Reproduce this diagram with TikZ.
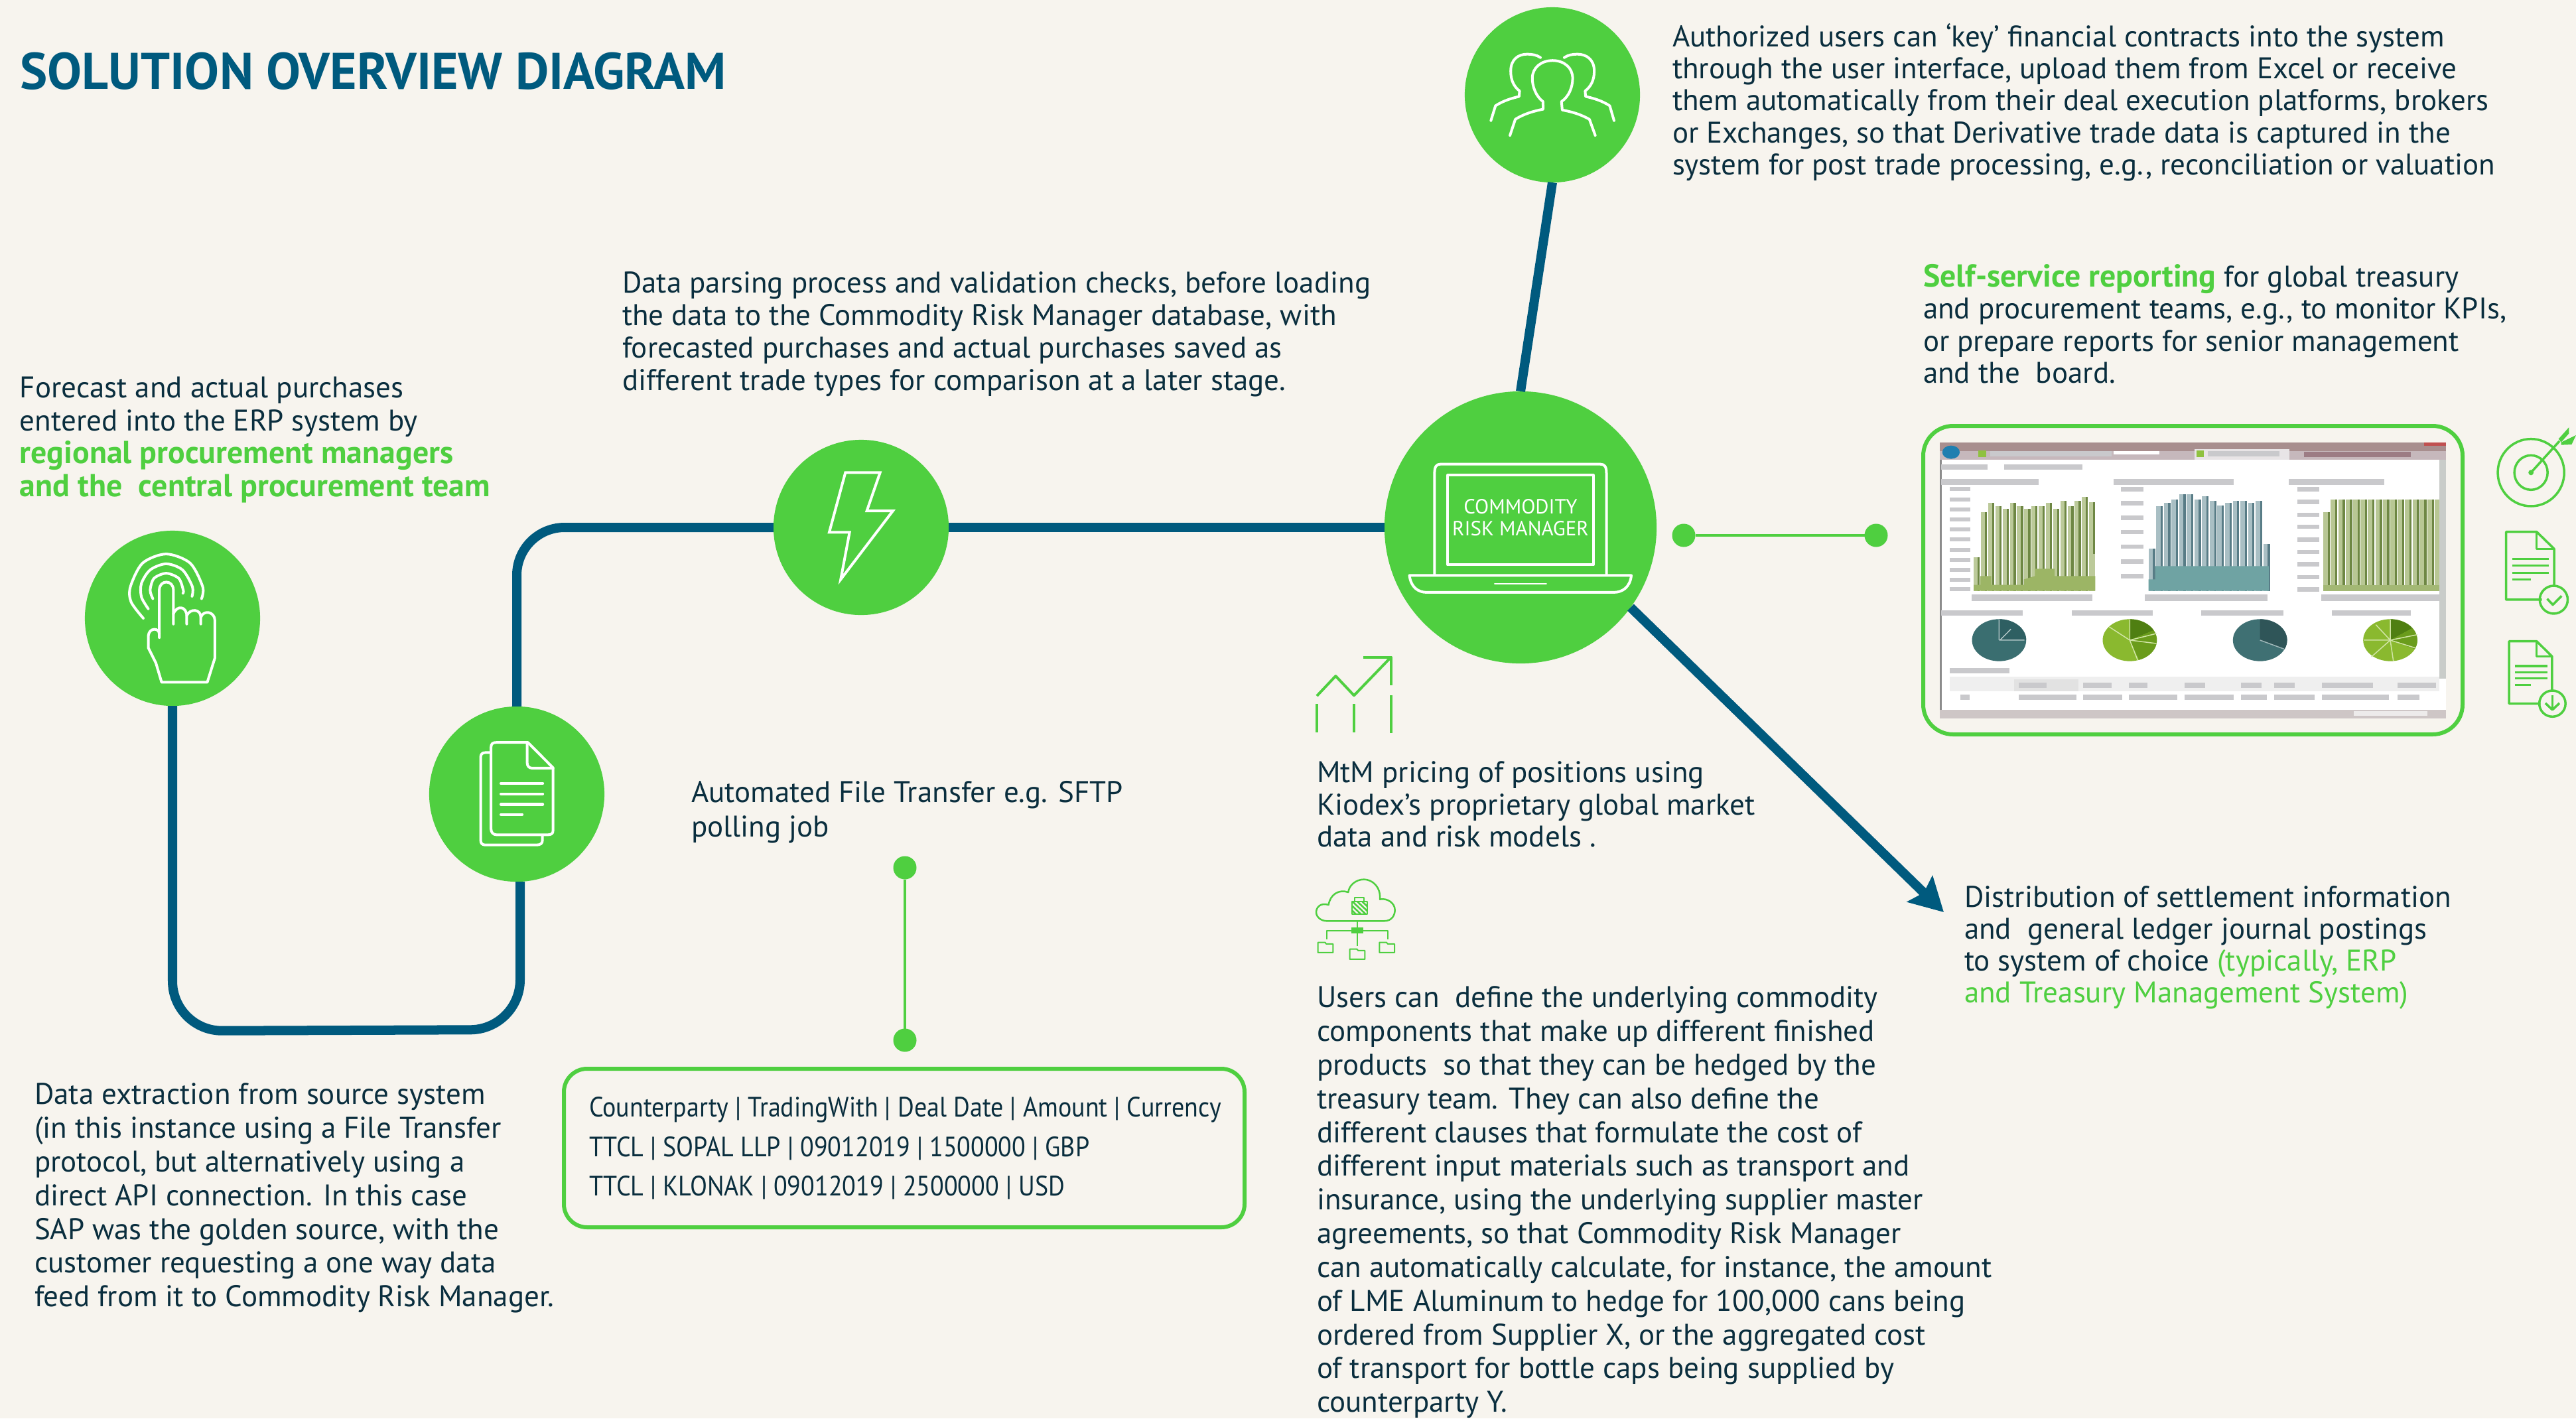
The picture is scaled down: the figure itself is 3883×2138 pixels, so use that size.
\documentclass[tikz,border=0pt]{standalone}
\usepackage{fontspec}
\setmainfont{PT Sans}
\newfontfamily\csvfont[FakeStretch=0.9]{PT Sans}
\usetikzlibrary{arrows.meta}
\definecolor{paper}{HTML}{F7F4EE}
\definecolor{grn}{HTML}{4FCF40}
\definecolor{blu}{HTML}{005A7E}
\definecolor{ink}{HTML}{0A2E3E}
\definecolor{gry}{HTML}{C9C9CC}
\definecolor{pieA}{HTML}{B0C5C5}
\definecolor{pieB}{HTML}{D0E4A5}
\definecolor{pieC}{HTML}{9DB5B7}
\newcommand{\blurbar}[4]{\fill[gry] (#1,#2) rectangle (#3,#4);}
\newcommand{\wedgeP}[5]{\fill[#5] (#1,#2) -- ++(#3:62 and 95) arc[start angle=#3,end angle=#4,x radius=62,y radius=95] -- cycle;}
\tikzset{
  HTML/.code={\definecolor{tmpc}{HTML}{#1}\pgfkeysalso{/tikz/fill=tmpc}},
  hub/.style={circle,fill=grn,minimum size=2.64cm,inner sep=0pt,outer sep=0pt},
  bigflow/.style={draw=blu,line width=0.14cm,line join=round},
  thinflow/.style={draw=grn,line width=0.045cm},
  dotnode/.style={circle,fill=grn,minimum size=0.35cm,inner sep=0pt,outer sep=0pt},
  greenbox/.style={draw=grn,line width=0.06cm,rounded corners=0.35cm},
  icon/.style={draw=white,line width=0.04cm,line cap=round,line join=round},
  gicon/.style={draw=grn,line width=0.035cm,line join=round},
  para/.style={anchor=north west,inner sep=0pt,outer sep=0pt,align=left,text=ink,font=\fontsize{12.8}{#1}\selectfont},
  para/.default=13.9pt,
}
\newcommand{\hl}[1]{{\fontsize{13.6}{14}\selectfont\textcolor{grn}{\textbf{#1}}}}
\begin{document}
\begin{tikzpicture}[x=0.01cm,y=-0.01cm]
\useasboundingbox (0,0) rectangle (3883,2138);
\fill[paper] (0,0) rectangle (3883,2138);

% hubs
\node[hub] (hand) at (260,932) {};
\node[hub] (doc) at (779,1197) {};
\node[hub] (bolt) at (1298,795) {};
\node[hub,minimum size=4.1cm] (crm) at (2292,795) {};
\node[hub] (users) at (2340,143) {};

% corners and free ends
\coordinate (c1) at (260,1554);
\coordinate (c2) at (784,1552);
\coordinate (c3) at (779,795);
\coordinate (tip) at (2930,1375);

% connectors
\draw[bigflow,rounded corners=0.75cm] (hand.south) -- (c1) -- (c2) -- (doc.south -| c2);
\draw[bigflow,rounded corners=0.72cm] (doc.north) -- (c3) -- (bolt.west);
\draw[bigflow] (bolt.east) -- (crm.west);
\draw[bigflow] (users.south) -- (crm.north);
\draw[bigflow,-{Stealth[length=0.5cm,width=0.54cm,inset=0.08cm]}] (crm.-36) -- (tip);

% thin dotted connectors
\node[dotnode] (d1) at (2538,807) {};
\node[dotnode] (d2) at (2828,807) {};
\draw[thinflow] (d1) -- (d2);
\node[dotnode] (d3) at (1364,1308) {};
\node[dotnode] (d4) at (1364,1568) {};
\draw[thinflow] (d3) -- (d4);

% title
\node[anchor=base west,inner sep=0pt,text=blu,font=\fontsize{22.1}{26}\selectfont\bfseries] (title) at (30,134) {SOLUTION OVERVIEW DIAGRAM};

% hand icon (zoom coordinates)
\begin{scope}[shift={(80,780)},xscale=0.574,yscale=0.51]
\draw[icon] plot[smooth] coordinates {(237,298) (205,250) (203,205) (235,135) (297,108) (360,135) (393,205) (390,240)};
\draw[icon] plot[smooth] coordinates {(250,270) (232,235) (232,195) (255,155) (297,137) (340,155) (366,205) (365,233)};
\draw[icon] plot[smooth] coordinates {(262,240) (255,215) (265,180) (297,165) (330,180) (342,215) (341,224)};
\draw[icon] (279,355) -- (279,215) .. controls (279,183) and (316,183) .. (316,215) -- (316,315);
\draw[icon] (316,285) .. controls (325,258) and (351,262) .. (351,292) -- (351,315);
\draw[icon] (351,290) .. controls (360,268) and (388,270) .. (388,295) -- (388,315);
\draw[icon] (388,295) .. controls (395,272) and (425,278) .. (425,305) -- (425,415) -- (405,487) -- (285,487) -- (270,430) -- (250,385) -- (250,350) .. controls (252,325) and (279,325) .. (279,345);
\end{scope}

% document icon
\begin{scope}[shift={(80,780)},xscale=0.574,yscale=0.51]
\draw[icon] (1150,680) .. controls (1150,668) and (1155,665) .. (1165,665) -- (1247,665) -- (1313,740) -- (1313,925) .. controls (1313,935) and (1308,938) .. (1298,938) -- (1165,938) .. controls (1155,938) and (1150,930) .. (1150,920) -- cycle;
\draw[icon] (1245,665) -- (1245,725) .. controls (1245,735) and (1250,741) .. (1258,741) -- (1313,741);
\draw[icon] (1176,786) -- (1286,786);
\draw[icon] (1176,817) -- (1286,817);
\draw[icon] (1176,848) -- (1286,848);
\draw[icon] (1176,878) -- (1232,878);
\draw[icon] (1147,695) -- (1135,695) .. controls (1127,695) and (1123,700) .. (1123,708) -- (1123,955) .. controls (1123,963) and (1127,968) .. (1135,968) -- (1270,968) .. controls (1280,968) and (1285,963) .. (1285,955) -- (1285,940);
\end{scope}

% bolt icon
\begin{scope}[shift={(1130,640)},scale=0.3333]
\draw[draw=white,line width=0.04cm,miter limit=10] (433,217) -- (590,217) -- (530,390) -- (648,390) -- (412,700) -- (452,487) -- (360,487) -- cycle;
\end{scope}

% users icon
\begin{scope}[shift={(1950,0)},xscale=0.3827,yscale=0.6378]
\draw[icon] (852,320) -- (873,282) .. controls (910,268) and (950,262) .. (983,258) -- (982,240) .. controls (955,228) and (940,205) .. (940,185) .. controls (940,160) and (975,143) .. (1020,143) .. controls (1065,143) and (1099,160) .. (1099,185) .. controls (1099,205) and (1085,228) .. (1055,240) -- (1058,260) .. controls (1095,264) and (1130,270) .. (1165,282) -- (1188,320);
\draw[icon] (777,285) -- (795,250) .. controls (825,238) and (860,232) .. (888,228) -- (890,215) .. controls (868,205) and (855,190) .. (855,168) .. controls (855,140) and (885,128) .. (920,128) .. controls (940,128) and (958,130) .. (972,136);
\draw[icon] (1262,285) -- (1245,250) .. controls (1215,238) and (1180,232) .. (1150,228) -- (1148,215) .. controls (1170,205) and (1184,190) .. (1184,168) .. controls (1184,140) and (1152,128) .. (1118,128) .. controls (1098,128) and (1080,130) .. (1066,136);
\end{scope}

% laptop icon
\begin{scope}[shift={(1950,0)},xscale=0.3827,yscale=0.6378]
\draw[icon] (555,1358) -- (555,1118) .. controls (555,1103) and (562,1097) .. (578,1097) -- (1208,1097) .. controls (1225,1097) and (1232,1103) .. (1232,1118) -- (1232,1358);
\draw[icon] (607,1123) rectangle (1180,1335);
\draw[icon] (456,1360) -- (1330,1360) .. controls (1325,1388) and (1295,1400) .. (1260,1400) -- (525,1400) .. controls (490,1400) and (462,1388) .. (456,1360) -- cycle;
\draw[draw=white,line width=0.025cm,line cap=round] (792,1380) -- (995,1380);
\end{scope}
\node[inner sep=0pt,align=center,text=white,font=\fontsize{8.8}{9.5}\selectfont] (crmlabel) at (2292,780) {COMMODITY\\RISK MANAGER};

% trend icon
\begin{scope}[shift={(1950,960)},scale=0.3333]
\draw[gicon,line width=0.04cm] (105,267) -- (190,177) -- (273,265) -- (440,92);
\draw[gicon,line width=0.04cm] (316,92) -- (441,92) -- (441,218);
\draw[gicon,line width=0.04cm] (105,303) -- (105,432);
\draw[gicon,line width=0.04cm] (273,303) -- (273,432);
\draw[gicon,line width=0.04cm] (441,265) -- (441,435);
\end{scope}

% cloud icon
\begin{scope}[shift={(1950,960)},scale=0.3333]
\draw[gicon,line width=0.025cm] (150,1285) -- (410,1285) .. controls (445,1285) and (458,1258) .. (458,1235) .. controls (458,1205) and (425,1180) .. (390,1187) .. controls (395,1130) and (355,1097) .. (318,1097) .. controls (280,1097) and (250,1125) .. (247,1155) .. controls (205,1140) and (165,1165) .. (158,1212) .. controls (120,1200) and (102,1225) .. (102,1245) .. controls (102,1268) and (125,1285) .. (150,1285) -- cycle;
\draw[gicon,line width=0.02cm] (263,1198) rectangle (332,1255);
\draw[gicon,line width=0.02cm] (275,1198) -- (275,1178) -- (317,1178) -- (317,1198);
\begin{scope}
\clip (263,1198) rectangle (332,1255);
\foreach \k in {0,22,...,132}{\draw[gicon,line width=0.025cm] (223+\k,1198) -- (283+\k,1255);}
\end{scope}
\draw[gicon,line width=0.022cm] (288,1285) -- (288,1397);
\draw[gicon,line width=0.022cm] (150,1368) -- (150,1328) -- (427,1328) -- (427,1368);
\fill[grn] (260,1315) rectangle (316,1340);
\foreach \fx/\fy in {110/1382,254/1412,388/1382}{
  \draw[gicon,line width=0.02cm] (\fx,\fy+46) -- (\fx,\fy) -- (\fx+32,\fy) -- (\fx+38,\fy+7) -- (\fx+68,\fy+7) -- (\fx+68,\fy+46) -- cycle;
}
\end{scope}

% csv box
\draw[greenbox,fill=paper] (850,1611) rectangle (1876,1850);
\node[para=17.05pt,font=\csvfont\fontsize{12}{17.05}\selectfont] (csv) at (888,1653) {Counterparty | TradingWith | Deal Date | Amount | Currency\\TTCL | SOPAL LLP | 09012019 | 1500000 | GBP\\TTCL | KLONAK | 09012019 | 2500000 | USD};

% screenshot box
\draw[greenbox,rounded corners=0.45cm] (2899,642) rectangle (3712,1107);
\begin{scope}[shift={(2850,620)},xscale=0.6588,yscale=0.3333]
\fill[white] (112,140) rectangle (1270,1390);
\fill[black!45!white] (112,140) rectangle (117,1390);
\fill[HTML=A88E8E] (112,140) rectangle (1270,180);
\fill[HTML=C6B8BC] (112,180) rectangle (1270,220);
\fill[HTML=9C7C84] (945,182) rectangle (1190,206);
\fill[HTML=E8E4E6] (695,170) rectangle (912,220);
\fill[HTML=C05050] (1220,142) rectangle (1270,155);
\fill[white] (510,180) rectangle (615,196);
\fill[HTML=1F7FB0] (138,185) ellipse [x radius=20,y radius=30];
\fill[HTML=8FC13F] (200,178) rectangle (218,206);
\fill[HTML=8FC13F] (700,178) rectangle (716,206);
\blurbar{228}{180}{505}{204}
\blurbar{725}{180}{890}{204}
\blurbar{116}{240}{222}{264}
\blurbar{260}{240}{438}{264}
\blurbar{116}{305}{338}{332}
\blurbar{510}{305}{785}{332}
\blurbar{910}{305}{1130}{332}
% y-axis labels
\foreach \yy in {352,398,443,490,535,580,626,672,716,762,805}{\blurbar{135}{\yy-9}{182}{\yy+9}}
\foreach \yy in {352,416,482,546,612,680,745}{\blurbar{526}{\yy-10}{578}{\yy+10}}
\foreach \yy in {352,410,468,522,580,636,692,750,805}{\blurbar{930}{\yy-10}{980}{\yy+10}}
% x-axis labels
\blurbar{185}{828}{462}{858}
\blurbar{582}{828}{862}{858}
\blurbar{985}{828}{1255}{858}
% chart 1
\foreach \h [count=\i] in {660,455,415,430,440,415,430,440,430,430,415,440,405,430,405,388,410} {
  \pgfmathsetmacro{\xx}{190+(\i-1)*16.5}
  \fill[HTML=BCCA9A] (\xx,\h) rectangle (\xx+9,812);
  \fill[HTML=6E8744] (\xx+9,\h) rectangle (\xx+14,812);
}
\fill[HTML=BCCA9A] (458,645) rectangle (468,812);
\fill[HTML=9CB565] (190,785) -- (205,785) -- (205,745) -- (230,745) -- (230,785) -- (305,785) -- (305,760) -- (330,745) -- (330,712) -- (375,712) -- (375,745) -- (468,745) -- (468,812) -- (190,812) -- cycle;
% chart 2
\foreach \h [count=\i] in {620,430,415,400,375,375,400,385,405,425,415,405,405,415,405,600} {
  \pgfmathsetmacro{\xx}{590+(\i-1)*17.5}
  \fill[HTML=A9BFC4] (\xx,\h) rectangle (\xx+10,812);
  \fill[HTML=587C86] (\xx+10,\h) rectangle (\xx+15,812);
}
\fill[HTML=6FA3A3] (590,760) -- (605,760) -- (605,700) -- (865,700) -- (865,812) -- (590,812) -- cycle;
% chart 3
\foreach \h [count=\i] in {455,400,400,400,400,400,400,400,400,400,400,400,400,400,400,400} {
  \pgfmathsetmacro{\xx}{990+(\i-1)*17}
  \fill[HTML=B8C794] (\xx,\h) rectangle (\xx+10,812);
  \fill[HTML=6E8744] (\xx+10,\h) rectangle (\xx+15,812);
}
\fill[HTML=A3B874] (990,787) rectangle (1262,812);
\fill[HTML=C9CCC9] (1255,220) rectangle (1270,1210);
% pie titles
\blurbar{116}{900}{302}{924}
\blurbar{415}{900}{600}{924}
\blurbar{710}{900}{898}{924}
\blurbar{1010}{900}{1190}{924}
% pies
\fill[HTML=3A6E70] (248,1035) ellipse [x radius=62,y radius=95];
\wedgeP{248}{1035}{-90}{0}{HTML=2E5F62}
\draw[pieA,line width=0.015cm] (248,1035) -- (306,1035) (248,1035) -- (248,942) (250,1035) -- (275,985);
\fill[HTML=8AB92F] (547,1035) ellipse [x radius=62,y radius=95];
\wedgeP{547}{1035}{-90}{-28}{HTML=4F7F12}
\wedgeP{547}{1035}{-28}{70}{HTML=6A9C1C}
\draw[pieB,line width=0.015cm] (547,1035) -- (547,942) (547,1035) -- (500,975) (547,1035) -- (608,1005) (547,1035) -- (608,1050) (547,1035) -- (565,1125);
\fill[HTML=3F7073] (845,1035) ellipse [x radius=62,y radius=95];
\wedgeP{845}{1035}{-90}{25}{HTML=2F5558}
\draw[pieC,line width=0.015cm] (845,1035) -- (900,1075);
\fill[HTML=8AB92F] (1143,1035) ellipse [x radius=62,y radius=95];
\wedgeP{1143}{1035}{-90}{-35}{HTML=4F7F12}
\wedgeP{1143}{1035}{-35}{25}{HTML=6A9C1C}
\draw[pieB,line width=0.015cm] (1143,1035) -- (1143,942) (1143,1035) -- (1110,965) (1143,1035) -- (1082,1035) (1143,1035) -- (1100,1110) (1143,1035) -- (1150,1128) (1143,1035) -- (1200,1070) (1143,1035) -- (1205,1010);
% table
\blurbar{135}{1160}{272}{1185}
\fill[HTML=EFEFEF] (135,1200) rectangle (1255,1265);
\fill[HTML=E2E2E2] (282,1212) rectangle (430,1265);
\foreach \a/\b in {293/357,440/505,545/588,672/720,802/848,877/925,987/1103,1160/1248}{\blurbar{\a}{1226}{\b}{1252}}
\foreach \a/\b in {160/180,293/425,440/530,545/655,672/785,802/860,877/970,987/1140,1160/1210}{\blurbar{\a}{1282}{\b}{1306}}
\fill[HTML=CEC6C6] (112,1350) rectangle (1270,1390);
\fill[HTML=EDEBEB] (1060,1355) rectangle (1228,1376);
\end{scope}

% target and document icons
\begin{scope}[shift={(2850,620)},xscale=0.6588,yscale=0.3333]
\draw[gicon] (1465,277) ellipse [x radius=76,y radius=152];
\draw[gicon] (1465,277) ellipse [x radius=38,y radius=78];
\fill[grn] (1465,277) ellipse [x radius=6,y radius=12];
\draw[gicon] (1465,277) -- (1530,135);
\fill[grn] (1528,125) -- (1552,72) -- (1552,100) -- (1534,140) -- cycle;
\fill[grn] (1534,140) -- (1568,108) -- (1558,150) -- (1534,152) -- cycle;
% page with check
\draw[gicon] (1490,852) -- (1408,852) -- (1408,545) -- (1478,545) -- (1518,622) -- (1518,790);
\draw[gicon] (1478,545) -- (1478,622) -- (1518,622);
\foreach \yy in {667,698,730}{\draw[gicon] (1422,\yy) -- (1505,\yy);}
\draw[gicon] (1422,760) -- (1465,760);
\draw[gicon] (1517,852) ellipse [x radius=32,y radius=63];
\draw[gicon] (1502,848) -- (1515,875) -- (1535,835);
% page with down arrow
\draw[gicon] (1487,1322) -- (1415,1322) -- (1415,1040) -- (1478,1040) -- (1513,1108) -- (1513,1265);
\draw[gicon] (1478,1040) -- (1478,1108) -- (1513,1108);
\foreach \yy in {1152,1180,1208}{\draw[gicon] (1428,\yy) -- (1502,\yy);}
\draw[gicon] (1428,1237) -- (1465,1237);
\draw[gicon] (1514,1322) ellipse [x radius=30,y radius=59];
\draw[gicon] (1514,1285) -- (1514,1350);
\draw[gicon] (1498,1320) -- (1514,1350) -- (1530,1320);
\end{scope}

% texts
\node[para=13.77pt] (t1) at (2521,35) {Authorized users can ‘key’ financial contracts into the system\\through the user interface, upload them from Excel or receive\\them automatically from their deal execution platforms, brokers\\or Exchanges, so that Derivative trade data is captured in the\\system for post trade processing, e.g., reconciliation or valuation};
\node[para=13.77pt] (t2) at (2899,398) {\hl{Self-service reporting} for global treasury\\and procurement teams, e.g., to monitor KPIs,\\or prepare reports for senior management\\and the~ board.};
\node[para=13.85pt] (t3) at (938,410) {Data parsing process and validation checks, before loading\\the data to the Commodity Risk Manager database, with\\forecasted purchases and actual purchases saved as\\different trade types for comparison at a later stage.};
\node[para=14.1pt] (t4) at (30,568) {Forecast and actual purchases\\entered into the ERP system by\\\hl{regional procurement managers}\\\hl{and the~ central procurement team}};
\node[para=14.8pt] (t5) at (1042,1177) {Automated File Transfer e.g. SFTP\\polling job};
\node[para=13.77pt] (t6) at (1985,1148) {MtM pricing of positions using\\Kiodex’s proprietary global market\\data and risk models .};
\node[para=14.45pt] (t7) at (1985,1487) {Users can~ define the underlying commodity\\components that make up different finished\\products~ so that they can be hedged by the\\treasury team. They can also define the\\different clauses that formulate the cost of\\different input materials such as transport and\\insurance, using the underlying supplier master\\agreements, so that Commodity Risk Manager\\can automatically calculate, for instance, the amount\\of LME Aluminum to hedge for 100,000 cans being\\ordered from Supplier X, or the aggregated cost\\of transport for bottle caps being supplied by\\counterparty Y.};
\node[para=13.65pt] (t8) at (2961,1336) {Distribution of settlement information\\and~ general ledger journal postings\\to system of choice \textcolor{grn}{(typically, ERP}\\\textcolor{grn}{and Treasury Management System)}};
\node[para=14.45pt] (t9) at (52,1633) {Data extraction from source system\\(in this instance using a File Transfer\\protocol, but alternatively using a\\direct API connection. In this case\\SAP was the golden source, with the\\customer requesting a one way data\\feed from it to Commodity Risk Manager.};
\end{tikzpicture}
\end{document}
